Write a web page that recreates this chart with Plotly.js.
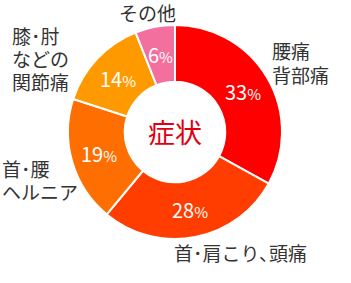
<!DOCTYPE html>
<html>
<head>
<meta charset="utf-8">
<script src="https://cdn.plot.ly/plotly-3.0.1.min.js"></script>
<style>
  html, body { margin: 0; padding: 0; background: #fff; }
  #chart { width: 351px; height: 283px; }
</style>
</head>
<body>
<div id="chart"></div>
<script>
// Symptom breakdown (percent), clockwise from 12 o'clock
const categories = ["腰痛 背部痛", "首･肩こり､頭痛", "首･腰 ヘルニア", "膝･肘 などの 関節痛", "その他"];
const labelLines = [["腰痛", "背部痛"], ["首･肩こり､頭痛"], ["首･腰", "ヘルニア"], ["膝･肘", "などの", "関節痛"], ["その他"]];
const shares = [33, 28, 19, 14, 6];
const sliceColors = ["#FF0000", "#FF3D00", "#FF6E00", "#FF9900", "#F36F9E"];
const centerTitle = "症状";

const W = 351, H = 283;
const px = (x) => x / W;
const py = (y) => 1 - y / H;

// Ring geometry (pixels)
const cx = 175, cy = 132, outerR = 107, holeFrac = 0.47;
const midR = outerR * (1 + holeFrac) / 2;

// Where each category's first text line sits, and the line pitch
const labelSpots = [
  { x: 270, y: 51 },
  { x: 172, y: 252 },
  { x: 0, y: 168 },
  { x: 10, y: 35 },
  { x: 117, y: 12.5 }
];
const linePitch = 23;

const labelFont = { family: "Noto Sans CJK JP, sans-serif", size: 19, color: "#333333" };

const annotations = [];
labelLines.forEach((lines, i) => {
  lines.forEach((t, k) => {
    annotations.push({
      text: t,
      x: px(labelSpots[i].x), y: py(labelSpots[i].y + k * linePitch),
      xref: "paper", yref: "paper",
      xanchor: "left", yanchor: "middle",
      showarrow: false,
      font: labelFont
    });
  });
});

// Percent labels on each slice's bisector, from the shares
const total = shares.reduce((a, b) => a + b, 0);
let acc = 0;
shares.forEach((v) => {
  const ang = 2 * Math.PI * (acc + v / 2) / total;
  acc += v;
  annotations.push({
    text: v + '<span style="font-size:15px">%</span>',
    x: px(cx + midR * Math.sin(ang)), y: py(cy - midR * Math.cos(ang)),
    xref: "paper", yref: "paper",
    xanchor: "center", yanchor: "middle",
    showarrow: false,
    font: { family: "Noto Sans CJK JP, sans-serif", size: 20, color: "#ffffff" }
  });
});

annotations.push({
  text: centerTitle,
  x: px(cx), y: py(131),
  xref: "paper", yref: "paper",
  xanchor: "center", yanchor: "middle",
  showarrow: false,
  font: { family: "Noto Sans CJK JP, sans-serif", size: 27, color: "#E00010" }
});

const trace = {
  type: "pie",
  labels: categories,
  values: shares,
  sort: false,
  direction: "clockwise",
  rotation: 0,
  hole: holeFrac,
  marker: { colors: sliceColors, line: { color: "#ffffff", width: 2 } },
  textinfo: "none",
  domain: { x: [px(cx - outerR), px(cx + outerR)], y: [py(cy + outerR), py(cy - outerR)] },
  hoverinfo: "none",
  showlegend: false
};

const layout = {
  width: W, height: H,
  margin: { l: 0, r: 0, t: 0, b: 0 },
  paper_bgcolor: "#ffffff",
  plot_bgcolor: "#ffffff",
  showlegend: false,
  annotations: annotations
};

Plotly.newPlot("chart", [trace], layout, { displayModeBar: false, staticPlot: true });
</script>
</body>
</html>
